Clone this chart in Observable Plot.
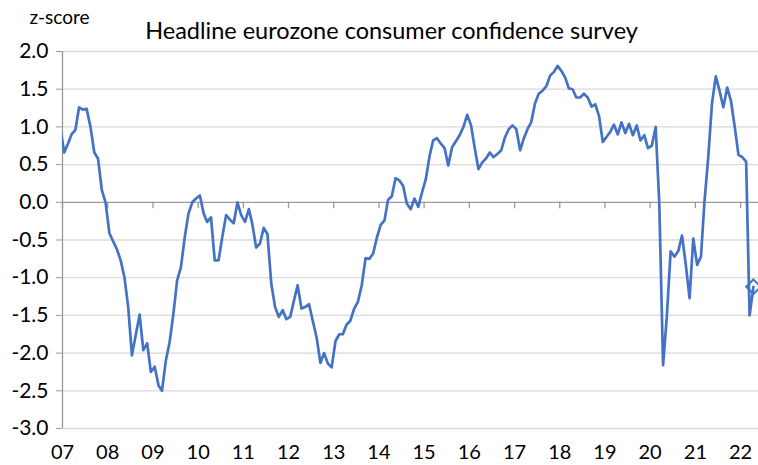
<!DOCTYPE html>
<html>
<head>
<meta charset="utf-8">
<script src="https://cdn.jsdelivr.net/npm/d3@7"></script>
<script src="https://cdn.jsdelivr.net/npm/@observablehq/plot@0.6"></script>
<style>
  html, body { margin: 0; padding: 0; background: #fff; }
  svg { display: block; }
</style>
</head>
<body>
<div id="chart"></div>
<script>
// ---- Data (monthly z-scores, first value = Dec 2006, drawn clipped at the axis) ----
const title = "Headline eurozone consumer confidence survey";
const yLabel = "z-score";
const firstMonth = [2006, 11]; // Dec 2006 (UTC year, month index)
const values2006 = [0.98];
const values2007 = [0.66, 0.78, 0.90, 0.96, 1.26, 1.23, 1.24, 1.00, 0.66, 0.58, 0.16, 0.00];
const values2008 = [-0.41, -0.52, -0.62, -0.77, -0.99, -1.39, -2.03, -1.76, -1.49, -1.96, -1.87, -2.25];
const values2009 = [-2.18, -2.43, -2.50, -2.10, -1.86, -1.48, -1.04, -0.86, -0.46, -0.15, 0.00, 0.05];
const values2010 = [0.09, -0.15, -0.26, -0.20, -0.77, -0.77, -0.46, -0.17, -0.23, -0.28, 0.00, -0.17];
const values2011 = [-0.26, -0.09, -0.29, -0.60, -0.55, -0.34, -0.42, -1.08, -1.39, -1.52, -1.43, -1.55];
const values2012 = [-1.52, -1.30, -1.10, -1.41, -1.39, -1.35, -1.57, -1.79, -2.13, -2.00, -2.14, -2.19];
const values2013 = [-1.84, -1.75, -1.75, -1.62, -1.57, -1.41, -1.32, -1.10, -0.74, -0.75, -0.68, -0.47];
const values2014 = [-0.30, -0.24, 0.03, 0.08, 0.32, 0.29, 0.22, -0.02, -0.09, 0.05, -0.06, 0.13];
const values2015 = [0.31, 0.62, 0.82, 0.85, 0.78, 0.72, 0.49, 0.73, 0.81, 0.89, 1.00, 1.16];
const values2016 = [1.02, 0.71, 0.44, 0.53, 0.58, 0.66, 0.60, 0.64, 0.69, 0.86, 0.97, 1.02];
const values2017 = [0.97, 0.69, 0.84, 0.97, 1.06, 1.31, 1.44, 1.48, 1.54, 1.68, 1.73, 1.81];
const values2018 = [1.74, 1.65, 1.51, 1.50, 1.39, 1.39, 1.44, 1.39, 1.27, 1.30, 1.14, 0.80];
const values2019 = [0.87, 0.94, 1.03, 0.90, 1.06, 0.92, 1.04, 0.89, 1.02, 0.82, 0.89, 0.72];
const values2020 = [0.75, 1.00, 0.00, -2.16, -1.52, -0.65, -0.72, -0.65, -0.44, -0.82, -1.27, -0.48];
const values2021 = [-0.83, -0.72, 0.00, 0.60, 1.31, 1.67, 1.48, 1.26, 1.52, 1.35, 1.00, 0.63];
const values2022 = [0.60, 0.54, -1.50, -1.12];
// latest reading highlighted with a diamond marker
const markerMonth = [2022, 3];
const markerValue = -1.12;

const yTicks = [2.0, 1.5, 1.0, 0.5, 0.0, -0.5, -1.0, -1.5, -2.0, -2.5, -3.0];
const yearTicks = d3.range(2007, 2023);

// ---- Build table ----
const allValues = [].concat(values2006, values2007, values2008, values2009, values2010,
  values2011, values2012, values2013, values2014, values2015, values2016, values2017,
  values2018, values2019, values2020, values2021, values2022);
const series = allValues.map((v, i) => ({
  date: new Date(Date.UTC(firstMonth[0], firstMonth[1] + i, 15)),
  value: v
}));
const marker = [{date: new Date(Date.UTC(markerMonth[0], markerMonth[1], 15)), value: markerValue}];
const years = yearTicks.map(y => new Date(Date.UTC(y, 0, 1)));

const blue = "#4472C4";
const axisGray = "#9a9a9a";
const gridGray = "#d9d9d9";
const font = "Lato, 'Open Sans', sans-serif";

const chart = Plot.plot({
  width: 758,
  height: 465,
  marginLeft: 62,
  marginRight: 0,
  marginTop: 51,
  marginBottom: 37,
  style: {fontFamily: font, fontSize: "21px", color: "#000", background: "#fff", overflow: "visible"},
  x: {type: "utc", domain: [new Date(Date.UTC(2007, 0, 1)), new Date(Date.UTC(2022, 4, 26))], axis: null},
  y: {type: "linear", domain: [-3, 2], axis: null},
  marks: [
    // gridlines
    Plot.ruleY(yTicks.filter(d => d !== 0), {y: d => d, stroke: gridGray, strokeWidth: 1.3}),
    // zero line
    Plot.ruleY([0], {stroke: axisGray, strokeWidth: 1.3}),
    // year ticks on the zero line (small downward ticks)
    Plot.ruleX(years, {x: d => d, y1: 0, y2: -0.085, stroke: axisGray, strokeWidth: 1.3}),
    // y axis line
    Plot.ruleX([new Date(Date.UTC(2007, 0, 1))], {stroke: axisGray, strokeWidth: 1.3}),
    // y axis ticks and labels
    Plot.axisY({
      ticks: yTicks, tickSize: 6, tickPadding: 8, stroke: axisGray,
      tickFormat: d => d.toFixed(1), fontSize: 21, fill: "#000", label: null
    }),
    // x labels
    Plot.text(years, {
      x: d => d, frameAnchor: "bottom", dy: 24, lineAnchor: "middle",
      text: d => d3.utcFormat("%y")(d), fontSize: 20, fill: "#000"
    }),
    // series
    Plot.line(series, {x: "date", y: "value", stroke: blue, strokeWidth: 2.7, clip: true, strokeLinejoin: "round"}),
    Plot.dot(marker, {x: "date", y: "value", symbol: "diamond2", r: 6.5, stroke: blue, strokeWidth: 2, fill: "none"}),
    // title and unit
    Plot.text([title], {frameAnchor: "top-left", dx: 329, dy: -20, lineAnchor: "middle", textAnchor: "middle", fontSize: 23.5, fill: "#000"}),
    Plot.text([yLabel], {frameAnchor: "top-left", dx: -33, dy: -34, lineAnchor: "middle", textAnchor: "start", fontSize: 19, fill: "#000"})
  ]
});

document.getElementById("chart").appendChild(chart);
</script>
</body>
</html>
